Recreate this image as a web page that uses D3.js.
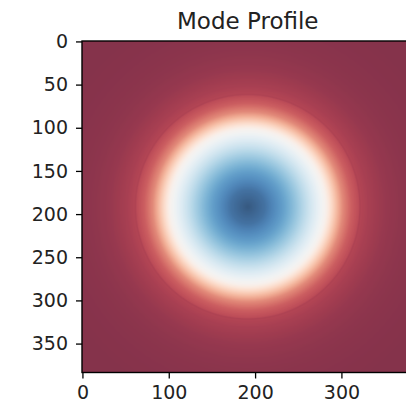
<!DOCTYPE html>
<html>
<head>
<meta charset="utf-8">
<script src="https://cdn.jsdelivr.net/npm/d3@7"></script>
<style>
  html, body { margin: 0; padding: 0; background: #fff; overflow: hidden; }
  svg { display: block; font-family: "DejaVu Sans", sans-serif; }
</style>
</head>
<body>
<svg id="chart" width="406" height="403"></svg>
<script>
// Grid size of the field (pixels per side) and where the mode is centred
const gridSize = [384];
const modeCenter = [191.5, 191.5];
// Radial profile of the mode: normalised intensity at each radius
// (a faint kink at the core boundary, r = 130)
const profileRadius = [0, 20, 40, 60, 80, 90, 100, 110, 120, 128.5, 130, 131.5, 140, 160, 180, 200, 240, 300];
const profileValue  = [1.0, 0.94, 0.83, 0.70, 0.56, 0.48, 0.35, 0.22, 0.14, 0.10, 0.07, 0.08, 0.06, 0.03, 0.015, 0.008, 0.0, 0.0];
// Axis tick values
const xTicks = [0, 100, 200, 300];
const yTicks = [0, 50, 100, 150, 200, 250, 300, 350];
const titleText = ["Mode Profile"];

const N = gridSize[0];
const svg = d3.select("#chart");
const plotLeft = 82, plotTop = 41, side = 331.5;

const x = d3.scaleLinear().domain([-0.5, N - 0.5]).range([plotLeft, plotLeft + side]);
const y = d3.scaleLinear().domain([-0.5, N - 0.5]).range([plotTop, plotTop + side]);

const profile = d3.scaleLinear().domain(profileRadius).range(profileValue).clamp(true);
const color = d3.scaleSequential(d3.interpolateRdBu).domain([0, 1]);

// Paint the field into an offscreen canvas, one cell per grid point
const canvas = document.createElement("canvas");
canvas.width = N; canvas.height = N;
const ctx = canvas.getContext("2d");
const img = ctx.createImageData(N, N);
for (let j = 0; j < N; j++) {
  for (let i = 0; i < N; i++) {
    const r = Math.hypot(i - modeCenter[0], j - modeCenter[1]);
    const c = d3.rgb(color(profile(r)));
    const k = 4 * (j * N + i);
    img.data[k] = c.r; img.data[k + 1] = c.g; img.data[k + 2] = c.b; img.data[k + 3] = 255;
  }
}
ctx.putImageData(img, 0, 0);

svg.append("image")
  .attr("href", canvas.toDataURL())
  .attr("x", x(-0.5)).attr("y", y(-0.5))
  .attr("width", x(N - 0.5) - x(-0.5)).attr("height", y(N - 0.5) - y(-0.5))
  .attr("preserveAspectRatio", "none")
  .attr("opacity", 0.8);

// Axes
const xAxis = d3.axisBottom(x).tickValues(xTicks).tickSize(6).tickPadding(7);
const yAxis = d3.axisLeft(y).tickValues(yTicks).tickSize(6).tickPadding(8);

const gx = svg.append("g").attr("transform", `translate(0,${plotTop + side})`).call(xAxis);
const gy = svg.append("g").attr("transform", `translate(${plotLeft},0)`).call(yAxis);
[gx, gy].forEach(g => {
  g.select(".domain").remove();
  g.selectAll(".tick line").attr("stroke", "#000").attr("stroke-width", 1.3);
  g.selectAll(".tick text").attr("fill", "#222").style("font-size", "19px").style("font-family", "DejaVu Sans, sans-serif");
});

// Frame around the image
svg.append("rect")
  .attr("x", plotLeft).attr("y", plotTop).attr("width", side).attr("height", side)
  .attr("fill", "none").attr("stroke", "#000").attr("stroke-width", 1.4);

svg.append("text")
  .attr("x", plotLeft + side / 2).attr("y", 29)
  .attr("text-anchor", "middle")
  .attr("fill", "#222")
  .style("font-size", "23px")
  .text(titleText[0]);
</script>
</body>
</html>
